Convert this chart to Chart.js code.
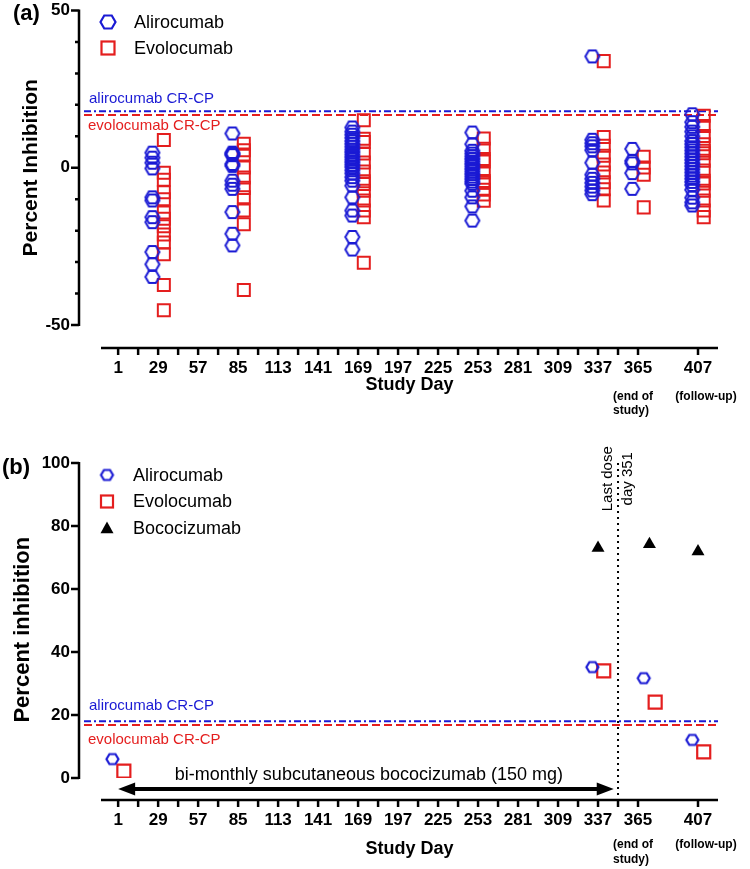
<!DOCTYPE html>
<html>
<head>
<meta charset="utf-8">
<script src="https://cdn.jsdelivr.net/npm/chart.js@4.4.1/dist/chart.umd.min.js"></script>
<style>
  body { margin: 0; background: #fff; }
  #wrap { position: relative; width: 750px; height: 869px; }
  canvas { position: absolute; left: 0; }
  #chartA { top: 0; }
  #chartB { top: 420px; }
</style>
</head>
<body>
<div id="wrap">
  <canvas id="chartA" width="750" height="420"></canvas>
  <canvas id="chartB" width="750" height="449"></canvas>
</div>
<script>
// ---- data ----
const dayTicks = [1, 29, 57, 85, 113, 141, 169, 197, 225, 253, 281, 309, 337, 365, 407];
const yTicksA = [-50, 0, 50];
const yTicksB = [0, 20, 40, 60, 80, 100];

// panel (a): individual subjects per visit
const visitDaysA = [29, 85, 169, 253, 337, 365, 407];
const alirocumabA = [
    [4.8, 3.2, 1.6, -0.2, -9.4, -10.4, -15.7, -17.3, -26.8, -30.7, -34.7],
    [10.9, 4.8, 4.4, 4.0, 1.2, 0.6, -4.1, -5.4, -6.7, -14.1, -21.0, -24.7],
    [12.8, 11.5, 10.5, 9.5, 8.5, 7.6, 6.7, 5.8, 5.0, 4.2, 3.4, 2.6, 1.8, 1.0, 0.2, -0.8, -1.8, -3.0, -4.1, -5.7, -9.4, -13.6, -15.2, -22.0, -26.0],
    [11.2, 7.5, 5.4, 4.5, 3.6, 2.8, 2.0, 1.2, 0.4, -0.4, -1.2, -2.0, -2.8, -3.6, -4.4, -5.1, -7.3, -9.4, -12.3, -16.8],
    [35.4, 8.9, 7.8, 6.8, 5.6, 1.6, -2.2, -3.5, -4.8, -6.0, -7.2, -8.4],
    [6.0, 2.2, 1.4, -1.7, -6.7],
    [17.0, 14.5, 13.0, 11.5, 10.0, 8.5, 7.5, 6.5, 5.5, 4.5, 3.5, 2.5, 1.5, 0.5, -0.5, -1.5, -2.5, -3.5, -4.5, -5.5, -7.0, -9.5, -11.0, -12.0]
];
const evolocumabA = [
    [8.8, -1.6, -3.8, -7.8, -10.0, -14.2, -16.2, -18.6, -21.2, -23.8, -27.5, -37.3, -45.3],
    [7.6, 5.6, 4.2, 0.1, -3.1, -6.4, -9.4, -13.6, -18.0, -38.9],
    [15.1, 9.2, 8.2, 4.5, 1.7, -1.2, -4.3, -5.2, -7.3, -10.4, -13.6, -15.7, -30.2],
    [9.3, 6.0, 2.8, 2.0, -1.5, -4.2, -4.8, -7.0, -8.5, -10.5],
    [33.9, 9.8, 7.0, 3.8, 1.0, -1.5, -4.6, -6.8, -10.4],
    [3.5, 0.1, -2.2, -12.6],
    [16.5, 13.3, 10.1, 7.5, 5.4, 4.6, 2.2, -0.9, -4.1, -5.0, -7.3, -10.4, -13.6, -15.7]
];

// panel (b): bococizumab-treated subject
const visitDaysB = [1, 337, 373, 407];
const alirocumabB = [6.0, 35.2, 31.7, 12.1];
const evolocumabB = [2.2, 34.0, 24.1, 8.3];
const bococizumabDaysB = [337, 373, 407];
const bococizumabB = [73.0, 74.2, 71.9];

// cut points and dosing
const alirocumabCRCP = 18.0;
const evolocumabCRCP = 16.8;
const lastDoseDay = 351;
const dosingDays = [1, 348];

// ---- styling ----
const BLUE = '#1a1ad4';
const RED = '#e41e1e';
const FONT = "'Liberation Sans', Arial, sans-serif";
Chart.defaults.font.family = FONT;
Chart.defaults.color = '#000';

// Hexagon marker (Chart.js has no hexagon pointStyle, so use a small canvas)
function hexImage(w, h, color, lw) {
    const c = document.createElement('canvas');
    c.width = Math.ceil(w + lw + 2);
    c.height = Math.ceil(h + lw + 2);
    const g = c.getContext('2d');
    const cx = c.width / 2, cy = c.height / 2;
    g.beginPath();
    g.moveTo(cx - w / 2, cy);
    g.lineTo(cx - w / 4, cy - h / 2);
    g.lineTo(cx + w / 4, cy - h / 2);
    g.lineTo(cx + w / 2, cy);
    g.lineTo(cx + w / 4, cy + h / 2);
    g.lineTo(cx - w / 4, cy + h / 2);
    g.closePath();
    g.strokeStyle = color;
    g.lineWidth = lw;
    g.stroke();
    return c;
}

// Function to turn per-visit value lists into scatter points
function groupPoints(days, groups, shift) {
    const pts = [];
    days.forEach((d, i) => groups[i].forEach(v => pts.push({ x: d + shift, y: v })));
    return pts;
}

function singlePoints(days, values, shift) {
    return days.map((d, i) => ({ x: d + shift, y: values[i] }));
}

// ---- drawing helpers for the Prism-like frame ----
function drawAxes(chart, cfg) {
    const { ctx, chartArea: area, scales: { x, y } } = chart;
    const axX = area.left - cfg.gapLeft;
    const axY = area.bottom + cfg.gapBottom;
    ctx.save();
    ctx.strokeStyle = '#000';
    ctx.lineWidth = 2.5;
    ctx.beginPath();
    ctx.moveTo(axX, y.getPixelForValue(cfg.yRange[1]) - 1);
    ctx.lineTo(axX, y.getPixelForValue(cfg.yRange[0]) + 1);
    cfg.yMarks.forEach(v => {
        const py = y.getPixelForValue(v);
        const len = cfg.yLabels.includes(v) ? 8 : 4;
        ctx.moveTo(axX - len, py);
        ctx.lineTo(axX, py);
    });
    ctx.moveTo(area.left, axY);
    ctx.lineTo(area.right, axY);
    const xMarks = [];
    for (let d = 1; d <= 365; d += 14) xMarks.push(d);
    xMarks.push(407);
    xMarks.forEach(d => {
        const px = x.getPixelForValue(d);
        ctx.moveTo(px, axY);
        ctx.lineTo(px, axY + 7);
    });
    ctx.stroke();

    // small notes under the last two visits
    ctx.fillStyle = '#000';
    ctx.font = 'bold 12px ' + FONT;
    ctx.textBaseline = 'middle';
    ctx.textAlign = 'left';
    const p365 = x.getPixelForValue(365);
    ctx.fillText('(end of', p365 - 25, axY + cfg.noteY[0]);
    ctx.fillText('study)', p365 - 25, axY + cfg.noteY[1]);
    ctx.textAlign = 'center';
    ctx.fillText('(follow-up)', x.getPixelForValue(407) + 8, axY + cfg.noteY[0]);
    ctx.restore();
}

function drawRefLines(chart, cfg) {
    const { ctx, chartArea: area, scales: { y } } = chart;
    const x0 = area.left - 17;
    ctx.save();
    ctx.lineWidth = 2;
    ctx.strokeStyle = BLUE;
    ctx.setLineDash([7, 3, 2, 3]);
    let py = y.getPixelForValue(alirocumabCRCP);
    ctx.beginPath(); ctx.moveTo(x0, py); ctx.lineTo(area.right, py); ctx.stroke();
    ctx.strokeStyle = RED;
    ctx.setLineDash([8, 4]);
    py = y.getPixelForValue(evolocumabCRCP);
    ctx.beginPath(); ctx.moveTo(x0, py); ctx.lineTo(area.right, py); ctx.stroke();
    ctx.setLineDash([]);

    ctx.font = '15px ' + FONT;
    ctx.textAlign = 'left';
    ctx.textBaseline = 'middle';
    ctx.fillStyle = BLUE;
    ctx.fillText('alirocumab CR-CP', area.left - 12, y.getPixelForValue(cfg.refLabelY[0]));
    ctx.fillStyle = RED;
    ctx.fillText('evolocumab CR-CP', area.left - 13, y.getPixelForValue(cfg.refLabelY[1]));
    ctx.restore();
}

function drawLegend(chart, cfg) {
    const ctx = chart.ctx;
    ctx.save();
    cfg.legend.forEach((item, i) => {
        const mx = cfg.legendX, my = cfg.legendY + i * cfg.legendStep;
        if (item.kind === 'hex') {
            const img = hexImage(item.w, item.h, item.color, 2.2);
            ctx.drawImage(img, mx - img.width / 2, my - img.height / 2);
        } else if (item.kind === 'square') {
            ctx.strokeStyle = item.color;
            ctx.lineWidth = 2.2;
            ctx.strokeRect(mx - item.w / 2, my - item.w / 2, item.w, item.w);
        } else {
            ctx.fillStyle = item.color;
            ctx.beginPath();
            ctx.moveTo(mx, my - item.w * 0.5);
            ctx.lineTo(mx + item.w / 2, my + item.w * 0.4);
            ctx.lineTo(mx - item.w / 2, my + item.w * 0.4);
            ctx.closePath();
            ctx.fill();
        }
        ctx.fillStyle = '#000';
        ctx.font = '18px ' + FONT;
        ctx.textAlign = 'left';
        ctx.textBaseline = 'middle';
        ctx.fillText(item.label, cfg.legendX + 26, my + 1);
    });
    ctx.font = 'bold 22px ' + FONT;
    ctx.fillText(cfg.letter, cfg.letterPos[0], cfg.letterPos[1]);
    ctx.restore();
}

function framePlugin(cfg) {
    return {
        id: 'frame',
        beforeDatasetsDraw(chart) {
            drawRefLines(chart, cfg);
            if (cfg.extras) cfg.extras(chart);
        },
        afterDraw(chart) {
            drawAxes(chart, cfg);
            drawLegend(chart, cfg);
        }
    };
}

// extra annotations of panel (b): last dose line and dosing arrow
function drawDosing(chart) {
    const { ctx, chartArea: area, scales: { x, y } } = chart;
    ctx.save();
    const px = x.getPixelForValue(lastDoseDay);
    ctx.strokeStyle = '#000';
    ctx.lineWidth = 2;
    ctx.setLineDash([2, 4]);
    ctx.beginPath();
    ctx.moveTo(px, y.getPixelForValue(100));
    ctx.lineTo(px, area.bottom + 22);
    ctx.stroke();
    ctx.setLineDash([]);

    ctx.fillStyle = '#000';
    ctx.font = '15px ' + FONT;
    ctx.textAlign = 'center';
    ctx.textBaseline = 'middle';
    const ty = y.getPixelForValue(95);
    ctx.save(); ctx.translate(px - 10, ty); ctx.rotate(-Math.PI / 2); ctx.fillText('Last dose', 0, 0); ctx.restore();
    ctx.save(); ctx.translate(px + 10, ty); ctx.rotate(-Math.PI / 2); ctx.fillText('day 351', 0, 0); ctx.restore();

    const ay = y.getPixelForValue(-3.5);
    const a0 = x.getPixelForValue(dosingDays[0]);
    const a1 = x.getPixelForValue(dosingDays[1]);
    ctx.lineWidth = 4;
    ctx.beginPath(); ctx.moveTo(a0 + 10, ay); ctx.lineTo(a1 - 10, ay); ctx.stroke();
    ctx.beginPath();
    ctx.moveTo(a0, ay); ctx.lineTo(a0 + 17, ay - 6.5); ctx.lineTo(a0 + 17, ay + 6.5); ctx.closePath();
    ctx.moveTo(a1, ay); ctx.lineTo(a1 - 17, ay - 6.5); ctx.lineTo(a1 - 17, ay + 6.5); ctx.closePath();
    ctx.fill();
    ctx.font = '18px ' + FONT;
    ctx.fillText('bi-monthly subcutaneous bococizumab (150 mg)', (a0 + a1) / 2 + 3, ay - 14);
    ctx.restore();
}

// ---- chart builder ----
function makeChart(canvasId, opt) {
    const ctx = document.getElementById(canvasId).getContext('2d');
    return new Chart(ctx, {
        type: 'scatter',
        data: { datasets: opt.datasets },
        options: {
            responsive: false,
            animation: false,
            events: [],
            layout: { padding: { top: opt.top, right: 32, bottom: 0, left: 0 } },
            plugins: { legend: { display: false }, tooltip: { enabled: false } },
            scales: {
                x: {
                    type: 'linear',
                    min: -11,
                    max: 421,
                    afterBuildTicks: s => { s.ticks = dayTicks.map(v => ({ value: v })); },
                    afterFit: s => { s.height = opt.xHeight; s.paddingLeft = 0; s.paddingRight = 0; },
                    grid: { display: false, drawTicks: false },
                    border: { display: false },
                    ticks: { padding: opt.xPad, autoSkip: false, maxRotation: 0, color: '#000',
                             font: { size: 17, weight: 'bold', lineHeight: 1 } },
                    title: { display: true, text: 'Study Day', color: '#000',
                             font: { size: 18, weight: 'bold' }, padding: { top: 0, bottom: opt.xTitlePad } }
                },
                y: {
                    type: 'linear',
                    min: opt.yRange[0],
                    max: opt.yRange[1],
                    afterBuildTicks: s => { s.ticks = opt.yLabels.map(v => ({ value: v })); },
                    afterFit: s => { s.width = 101; s.paddingTop = 0; s.paddingBottom = 0; },
                    grid: { display: false, drawTicks: false },
                    border: { display: false },
                    ticks: { padding: 31, color: '#000', font: { size: 17, weight: 'bold', lineHeight: 1 } },
                    title: { display: true, text: opt.yTitle, color: '#000',
                             font: { size: opt.yTitleSize, weight: 'bold' }, padding: { top: opt.yTitlePad, bottom: 0 } }
                }
            }
        },
        plugins: [framePlugin(opt.frame)]
    });
}

// panel (a)
const yMarksA = [];
for (let v = -50; v <= 50; v += 10) yMarksA.push(v);

makeChart('chartA', {
    top: 9, xHeight: 95, xPad: 34.5, xTitlePad: 24,
    yRange: [-50, 50], yLabels: yTicksA,
    yTitle: 'Percent Inhibition', yTitleSize: 21, yTitlePad: 19,
    datasets: [
        { label: 'Alirocumab', data: groupPoints(visitDaysA, alirocumabA, -4),
          pointStyle: hexImage(14, 12, BLUE, 2), borderColor: BLUE },
        { label: 'Evolocumab', data: groupPoints(visitDaysA, evolocumabA, 4),
          pointStyle: 'rect', pointRadius: 8.5, borderWidth: 2, borderColor: RED, backgroundColor: 'rgba(0,0,0,0)' }
    ],
    frame: {
        gapLeft: 22, gapBottom: 23, yRange: [-50, 50], yMarks: yMarksA, yLabels: yTicksA,
        noteY: [49, 63], refLabelY: [21.8, 13.3],
        legendX: 108, legendY: 22, legendStep: 26,
        legend: [
            { label: 'Alirocumab', kind: 'hex', color: BLUE, w: 15, h: 13 },
            { label: 'Evolocumab', kind: 'square', color: RED, w: 13 }
        ],
        letter: '(a)', letterPos: [13, 14]
    }
});

// panel (b)
makeChart('chartB', {
    top: 43, xHeight: 91, xPad: 33.5, xTitlePad: 8.7,
    yRange: [0, 100], yLabels: yTicksB,
    yTitle: 'Percent inhibition   ', yTitleSize: 22, yTitlePad: 9.8,
    datasets: [
        { label: 'Alirocumab', data: singlePoints(visitDaysB, alirocumabB, -4),
          pointStyle: hexImage(12, 10, BLUE, 2.2), borderColor: BLUE },
        { label: 'Evolocumab', data: singlePoints(visitDaysB, evolocumabB, 4),
          pointStyle: 'rect', pointRadius: 9.2, borderWidth: 2.2, borderColor: RED, backgroundColor: 'rgba(0,0,0,0)' },
        { label: 'Bococizumab', data: singlePoints(bococizumabDaysB, bococizumabB, 0),
          pointStyle: 'triangle', pointRadius: 7.5, borderWidth: 0, backgroundColor: '#000' }
    ],
    frame: {
        gapLeft: 22, gapBottom: 22, yRange: [0, 100], yMarks: yTicksB, yLabels: yTicksB,
        noteY: [45, 60], refLabelY: [22.9, 12.1],
        legendX: 107, legendY: 55, legendStep: 26.5,
        legend: [
            { label: 'Alirocumab', kind: 'hex', color: BLUE, w: 12, h: 10 },
            { label: 'Evolocumab', kind: 'square', color: RED, w: 12 },
            { label: 'Bococizumab', kind: 'tri', color: '#000', w: 13 }
        ],
        letter: '(b)', letterPos: [2, 48],
        extras: drawDosing
    }
});
</script>
</body>
</html>
